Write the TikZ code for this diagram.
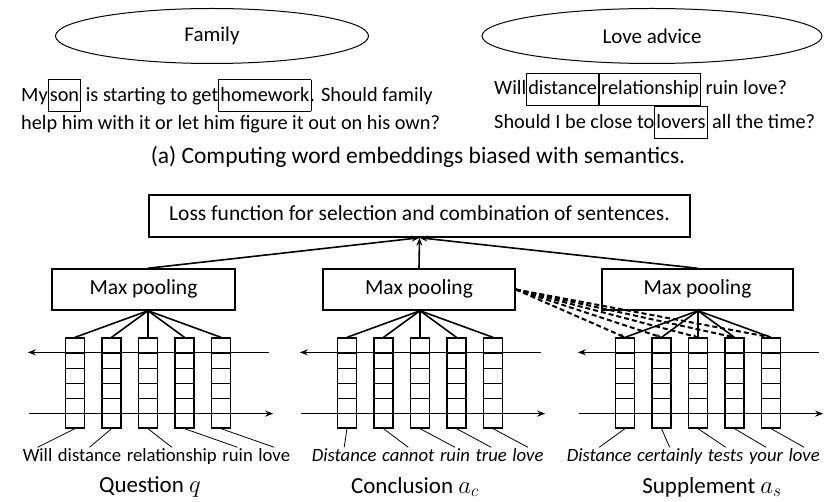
\documentclass[tikz,border=0pt]{standalone}
\usepackage{fontspec}
\setmainfont{Carlito}
\usetikzlibrary{positioning,shapes.geometric,arrows.meta,calc}

\newcommand{\wbox}[1]{{\setlength{\fboxsep}{1.2pt}\setlength{\fboxrule}{0.9pt}\fbox{\strut #1}}}

\tikzset{
  topic/.style={ellipse, draw, line width=1pt, minimum height=55pt, inner sep=0pt, font=\fontsize{21}{25}\selectfont},
  post/.style={anchor=west, align=left, inner sep=0pt, font=\fontsize{20.3}{28}\selectfont},
  caption/.style={inner sep=0pt, font=\fontsize{23.5}{28}\selectfont},
  box/.style={rectangle, draw, line width=1.5pt, inner sep=0pt, text height=14pt, text depth=4pt, font=\fontsize{21.5}{25}\selectfont},
  vec/.style={rectangle, draw, line width=1.3pt, minimum width=19pt, minimum height=90pt, inner sep=0pt,
    path picture={\foreach \k in {1,...,5}
      \draw[line width=1pt] ([yshift=-\k*15pt]path picture bounding box.north west) -- ([yshift=-\k*15pt]path picture bounding box.north east);}},
  word/.style={inner xsep=2.6pt, inner ysep=1pt, text height=13pt, text depth=4pt, font=\fontsize{18.7}{22}\selectfont},
  tag/.style={inner sep=0pt, font=\fontsize{23}{27}\selectfont},
  flow/.style={line width=1.6pt, -{Stealth[length=8pt,width=6pt]}},
  link/.style={line width=1.6pt},
  tie/.style={line width=0.8pt},
  dashlink/.style={line width=2pt, dashed, dash pattern=on 5pt off 3pt, -{Stealth[length=5pt,width=4pt]}}
}

\begin{document}
\begin{tikzpicture}[x=1pt,y=-1pt]
\useasboundingbox (0,0) rectangle (837,502);

% Topics and posts
\node[topic, minimum width=313pt] (family) at (212,36) {Family};
\node[topic, minimum width=340pt] (love) at (652,36) {Love advice};

\node[post] (famtext) at (21,106) {My\wbox{son} is starting to get\wbox{homework}\kern-1.5pt. Should family\\
  help him with it or let him figure it out on his own?};
\node[post] (lovetext) at (494,106) {Will\wbox{distance}\wbox{relationship} ruin love?\\
  Should I be close to\wbox{lovers} all the time?};

\node[caption] (capa) at (418,157) {(a) Computing word embeddings biased with semantics.};

% Loss and pooling
\node[box, minimum width=541pt, minimum height=42pt] (loss) at (419.5,216) {Loss function for selection and combination of sentences.};

\node[box, minimum width=183pt, minimum height=41pt] (qpool) at (143.5,289.5) {Max pooling};
\node[box, minimum width=192pt, minimum height=41pt] (cpool) at (419,289.5) {Max pooling};
\node[box, minimum width=191pt, minimum height=41pt] (spool) at (697.5,289.5) {Max pooling};

% Word vectors
\foreach \g/\x in {q/75,c/347,s/625}
  \foreach \i in {1,...,5}
    \node[vec] (\g\i) at ({\x+36.5*(\i-1)},383) {};

\foreach \g in {q,c,s} {
  \coordinate (\g-hub) at (\g pool.south -| \g3);
  \foreach \i in {1,...,5}
    \draw[link] (\g-hub) -- (\g\i.north);
  \draw[flow] ([xshift=38pt,yshift=-15pt]\g5.north east) -- ([xshift=-37pt,yshift=-15pt]\g1.north west);
  \draw[flow] ([xshift=-36pt,yshift=15pt]\g1.south west) -- ([xshift=42pt,yshift=15pt]\g5.south east);
}

\draw[flow] (qpool.north -| q3) -- (loss.south);
\draw[flow] (cpool.north) -- (loss.south);
\draw[flow] (spool.north) -- (loss.south);

% Dashed links to supplement
\foreach \i in {1,...,5}
  \draw[dashlink] (cpool.east) -- (s\i.north);

% Sentences
\coordinate (q-w0) at (20,457);
\coordinate (c-w0) at (309,457);
\coordinate (s-w0) at (564,457);
\foreach \w [count=\i, remember=\i as \j (initially 0)] in {Will,distance,relationship,ruin,love}
  \node[word, right=0pt of q-w\j] (q-w\i) {\w};
\foreach \w [count=\i, remember=\i as \j (initially 0)] in {Distance,cannot,ruin,true,love}
  \node[word, font=\fontsize{18.7}{22}\selectfont\itshape, right=0pt of c-w\j] (c-w\i) {\w};
\foreach \w [count=\i, remember=\i as \j (initially 0)] in {Distance,certainly,tests,your,love}
  \node[word, font=\fontsize{18.7}{22}\selectfont\itshape, right=0pt of s-w\j] (s-w\i) {\w};

\foreach \g in {q,c,s}
  \foreach \i in {1,...,5}
    \draw[tie] (\g\i.south) -- (\g-w\i.north);

% Labels
\node[tag] (qlab) at (150,487) {Question $q$};
\node[tag] (clab) at (415,487) {Conclusion $a_c$};
\node[tag] (slab) at (712,487) {Supplement $a_s$};
\end{tikzpicture}
\end{document}
